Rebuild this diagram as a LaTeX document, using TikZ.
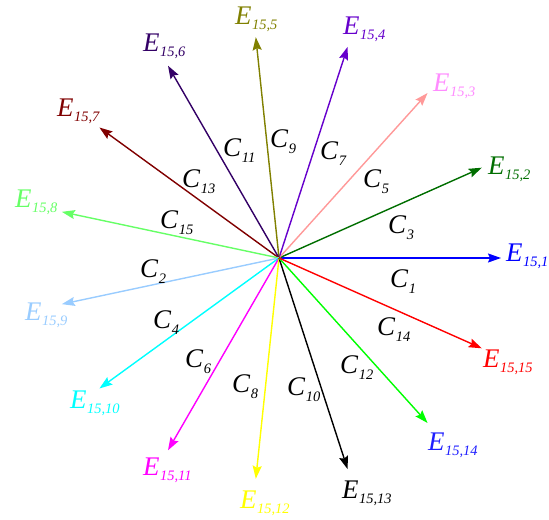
\documentclass[tikz,border=0pt]{standalone}
\usepackage{fontspec}
\setmainfont{Liberation Serif}
\usetikzlibrary{arrows.meta}
\definecolor{cE1}{RGB}{0,0,255}
\definecolor{cE2}{RGB}{0,110,0}
\definecolor{cE3}{RGB}{255,153,153}
\definecolor{tE3}{RGB}{255,140,255}
\definecolor{cE4}{RGB}{102,0,204}
\definecolor{cE5}{RGB}{128,128,0}
\definecolor{cE6}{RGB}{51,0,102}
\definecolor{cE7}{RGB}{128,0,0}
\definecolor{cE8}{RGB}{102,255,102}
\definecolor{cE9}{RGB}{153,204,255}
\definecolor{cE10}{RGB}{0,255,255}
\definecolor{cE11}{RGB}{255,0,255}
\definecolor{cE12}{RGB}{255,255,0}
\definecolor{cE13}{RGB}{0,0,0}
\definecolor{cE14}{RGB}{0,255,0}
\definecolor{tE14}{RGB}{30,30,255}
\definecolor{cE15}{RGB}{255,0,0}
\newcommand{\Elab}[1]{\textit{E}\kern0.5bp\raisebox{-5bp}{\fontsize{14.5}{14.5}\selectfont\textit{15,#1}}}
\newcommand{\Clab}[1]{\textit{C}\kern0.5bp\raisebox{-6bp}{\fontsize{14.5}{14.5}\selectfont\textit{#1}}}
\tikzset{
  vec/.style={line width=1.4bp, -{Stealth[length=13bp,width=9bp,inset=2bp]}},
  elab/.style={anchor=base west, inner sep=0pt, font=\fontsize{27}{27}\selectfont},
  clab/.style={anchor=base west, inner sep=0pt, font=\fontsize{27}{27}\selectfont, text=black}
}
\begin{document}
\begin{tikzpicture}[x=1bp,y=-1bp]
\useasboundingbox (0,0) rectangle (549,520);
\coordinate (O) at (279,258);
\foreach \k/\c in {1/cE1,2/cE2,3/cE3,4/cE4,5/cE5,6/cE6,7/cE7,8/cE8,9/cE9,10/cE10,11/cE11,12/cE12,13/cE13,14/cE14,15/cE15}{
  \coordinate (T\k) at ({279+222*cos(24*(\k-1))},{258-222*sin(24*(\k-1))});
  \draw[vec, draw=\c, fill=\c] (O) -- (T\k);
}
% E labels
\node[elab, text=cE1]  (E1)  at (506,261) {\Elab{1}};
\node[elab, text=cE2]  (E2)  at (488,175) {\Elab{2}};
\node[elab, text=tE3]  (E3)  at (433,92)  {\Elab{3}};
\node[elab, text=cE4]  (E4)  at (343,35)  {\Elab{4}};
\node[elab, text=cE5]  (E5)  at (235,25)  {\Elab{5}};
\node[elab, text=cE6]  (E6)  at (143,52)  {\Elab{6}};
\node[elab, text=cE7]  (E7)  at (57,117)  {\Elab{7}};
\node[elab, text=cE8]  (E8)  at (15,208)  {\Elab{8}};
\node[elab, text=cE9]  (E9)  at (25,320)  {\Elab{9}};
\node[elab, text=cE10] (E10) at (70,408)  {\Elab{10}};
\node[elab, text=cE11] (E11) at (143,475) {\Elab{11}};
\node[elab, text=cE12] (E12) at (240,508) {\Elab{12}};
\node[elab, text=cE13] (E13) at (342,498) {\Elab{13}};
\node[elab, text=tE14] (E14) at (428,450) {\Elab{14}};
\node[elab, text=cE15] (E15) at (483,367) {\Elab{15}};
% C labels
\node[clab] (C1)  at (390,287) {\Clab{1}};
\node[clab] (C3)  at (388,233) {\Clab{3}};
\node[clab] (C5)  at (363,188) {\Clab{5}};
\node[clab] (C7)  at (320,160) {\Clab{7}};
\node[clab] (C9)  at (270,148) {\Clab{9}};
\node[clab] (C11) at (223,157) {\Clab{11}};
\node[clab] (C13) at (182,188) {\Clab{13}};
\node[clab] (C15) at (160,228) {\Clab{15}};
\node[clab] (C2)  at (140,277) {\Clab{2}};
\node[clab] (C4)  at (153,328) {\Clab{4}};
\node[clab] (C6)  at (185,367) {\Clab{6}};
\node[clab] (C8)  at (232,392) {\Clab{8}};
\node[clab] (C10) at (287,395) {\Clab{10}};
\node[clab] (C12) at (340,373) {\Clab{12}};
\node[clab] (C14) at (377,335) {\Clab{14}};
\end{tikzpicture}
\end{document}
